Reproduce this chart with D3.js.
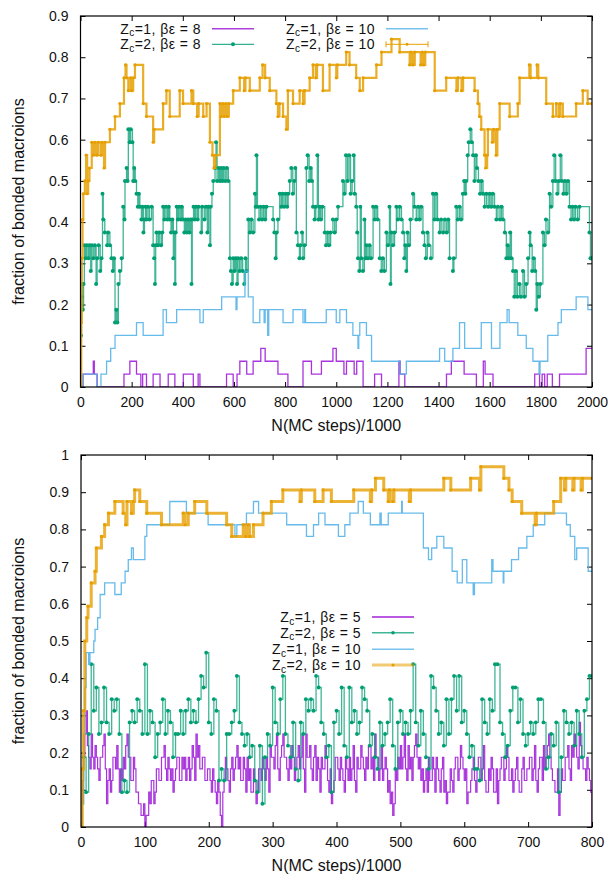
<!DOCTYPE html>
<html><head><meta charset="utf-8">
<script src="https://cdn.jsdelivr.net/npm/d3@7"></script>
<style>
body{margin:0;background:#fff}
svg{display:block;font-family:"Liberation Sans",Arial,sans-serif}
</style></head><body>
<svg id="chart" width="613" height="874"></svg>
<script>
// fractions are bonded counts out of 32 macroions
const N_MACRO=32;

// top panel, change points [N(MC steps)/1000, bonded count]
const topZ1b8=[[0,0],[10,1],[50,2],[54,1],[65,0],[170,1],[193,2],[219,1],[236,0],[243,1],[258,0],[284,1],[311,0],[343,1],[369,0],[402,1],[441,0],[460,1],[467,0],[571,1],[597,0],[612,1],[623,2],[650,1],[675,2],[705,3],[722,2],[772,1],[811,0],[870,2],[903,1],[942,2],[987,3],[1000,2],[1030,1],[1040,2],[1070,1],[1080,2],[1105,0],[1150,1],[1177,0],[1245,2],[1250,1],[1268,0],[1431,1],[1450,2],[1500,1],[1548,0],[1575,2],[1582,1],[1613,0],[1776,1],[1795,0],[1805,1],[1815,0],[1825,1],[1845,0],[1873,1],[1977,3],[2000,3]];
const topZ2b8=[[0,0],[2,4],[4,7],[6,8],[9,6],[12,8],[15,11],[20,10],[25,11],[31,10],[35,11],[40,9],[44,11],[50,10],[56,11],[61,8],[65,10],[71,11],[77,9],[82,10],[86,15],[89,13],[95,12],[104,11],[108,12],[115,11],[121,10],[126,9],[131,10],[135,5],[140,6],[144,5],[148,8],[154,9],[161,10],[167,14],[172,13],[174,16],[180,17],[184,16],[187,20],[192,19],[196,20],[203,19],[206,16],[210,17],[214,16],[219,15],[224,14],[228,15],[232,14],[238,13],[242,14],[246,12],[250,13],[254,14],[258,13],[264,14],[270,13],[278,14],[284,11],[288,10],[291,8],[294,11],[297,12],[303,11],[308,12],[315,11],[320,12],[323,14],[328,13],[334,14],[340,13],[345,14],[349,13],[354,12],[359,13],[363,10],[367,12],[369,8],[372,12],[376,14],[381,13],[386,14],[392,13],[396,14],[401,13],[406,12],[411,13],[416,12],[421,13],[426,12],[431,13],[434,8],[437,13],[442,14],[447,13],[452,14],[458,13],[462,14],[472,12],[476,14],[484,13],[490,14],[496,12],[500,14],[506,11],[509,14],[514,15],[519,16],[526,17],[530,19],[534,16],[540,17],[545,16],[550,17],[555,16],[560,17],[566,16],[572,17],[578,16],[584,10],[588,9],[592,8],[597,10],[602,9],[607,10],[612,8],[616,10],[622,9],[628,10],[634,9],[640,8],[645,10],[650,9],[656,13],[662,12],[668,13],[675,12],[682,15],[685,14],[688,18],[692,14],[698,13],[704,14],[710,13],[716,14],[722,13],[727,14],[753,13],[758,12],[763,10],[767,12],[772,13],[779,15],[785,14],[790,15],[796,14],[802,15],[808,14],[812,15],[818,16],[824,17],[830,15],[836,16],[840,17],[844,12],[850,11],[856,10],[860,11],[866,12],[870,10],[876,11],[883,17],[888,18],[894,16],[900,17],[905,16],[909,14],[915,13],[920,14],[926,18],[930,13],[935,14],[940,13],[946,14],[955,12],[960,11],[966,12],[972,11],[978,12],[987,13],[994,12],[1000,13],[1007,14],[1026,16],[1032,15],[1038,18],[1044,16],[1050,18],[1056,15],[1062,16],[1068,18],[1072,15],[1078,14],[1082,12],[1085,10],[1090,9],[1094,14],[1098,10],[1104,9],[1110,13],[1114,10],[1118,11],[1124,10],[1130,11],[1136,10],[1144,14],[1150,13],[1156,14],[1162,13],[1170,10],[1176,9],[1182,10],[1188,9],[1196,12],[1202,11],[1208,14],[1212,8],[1215,12],[1222,11],[1228,12],[1235,14],[1241,13],[1248,14],[1255,13],[1261,12],[1266,10],[1270,11],[1274,9],[1278,12],[1284,11],[1290,13],[1300,15],[1306,14],[1313,13],[1320,14],[1326,13],[1332,14],[1339,12],[1345,11],[1350,10],[1356,12],[1362,11],[1370,10],[1378,15],[1384,13],[1390,15],[1396,13],[1404,12],[1410,13],[1418,12],[1425,13],[1432,12],[1438,13],[1443,10],[1456,9],[1460,10],[1469,14],[1475,13],[1482,14],[1488,13],[1495,15],[1500,16],[1505,15],[1508,16],[1514,18],[1518,19],[1524,20],[1530,19],[1535,18],[1540,16],[1546,18],[1550,17],[1556,16],[1562,15],[1568,16],[1574,15],[1580,14],[1587,15],[1594,14],[1600,15],[1606,14],[1612,15],[1619,14],[1626,13],[1632,14],[1640,13],[1646,14],[1652,13],[1659,12],[1665,10],[1670,11],[1675,10],[1680,12],[1685,10],[1691,9],[1696,7],[1702,9],[1708,7],[1716,8],[1722,7],[1730,9],[1736,7],[1743,8],[1750,10],[1756,12],[1760,11],[1766,9],[1772,10],[1778,9],[1782,6],[1786,8],[1792,7],[1798,8],[1808,12],[1814,11],[1820,13],[1828,12],[1834,15],[1840,14],[1847,16],[1852,18],[1858,16],[1864,15],[1870,16],[1876,18],[1882,16],[1888,15],[1894,16],[1900,15],[1906,16],[1912,14],[1918,13],[1924,14],[1930,13],[1936,14],[1944,13],[1951,14],[1990,12],[1994,10],[2000,10]];
const topZ1b10=[[0,0],[11,1],[63,0],[80,1],[102,2],[118,3],[135,4],[219,5],[245,4],[323,6],[336,5],[376,6],[467,5],[480,6],[552,7],[608,6],[612,7],[643,9],[656,7],[675,5],[701,6],[718,5],[722,6],[732,4],[736,6],[792,5],[831,6],[870,5],[877,6],[880,5],[961,6],[1000,5],[1014,6],[1040,5],[1065,4],[1085,3],[1088,4],[1092,5],[1118,4],[1138,2],[1249,1],[1274,2],[1404,3],[1424,2],[1456,3],[1482,5],[1502,3],[1567,5],[1607,3],[1640,5],[1668,6],[1676,5],[1710,4],[1743,3],[1769,2],[1793,1],[1797,2],[1827,4],[1867,5],[1880,6],[1938,7],[1984,6],[2000,6]];
const topZ2b10=[[0,0],[3,5],[5,10],[8,13],[11,15],[17,16],[22,18],[26,15],[30,16],[35,17],[44,19],[50,18],[56,19],[64,18],[70,19],[80,18],[84,19],[92,17],[96,19],[115,20],[135,21],[154,22],[170,24],[176,25],[180,24],[187,23],[196,24],[200,23],[206,24],[213,25],[245,22],[258,21],[284,19],[288,20],[323,22],[336,23],[349,21],[388,23],[401,22],[434,23],[441,22],[456,21],[462,22],[480,21],[493,22],[506,19],[516,18],[522,17],[528,18],[545,22],[550,21],[556,22],[562,21],[568,22],[574,21],[580,22],[597,23],[623,24],[640,23],[645,24],[662,23],[701,24],[712,25],[722,24],[740,23],[766,22],[772,21],[778,22],[792,21],[805,20],[811,23],[831,22],[857,23],[870,22],[876,23],[896,24],[909,25],[920,24],[925,25],[948,23],[974,25],[1000,24],[1004,25],[1039,26],[1052,25],[1078,24],[1092,23],[1105,24],[1157,25],[1177,26],[1216,27],[1248,26],[1287,25],[1292,26],[1300,25],[1307,26],[1330,25],[1336,26],[1342,25],[1348,26],[1385,23],[1430,24],[1470,23],[1476,24],[1490,23],[1496,24],[1541,23],[1554,22],[1560,21],[1567,20],[1580,18],[1584,17],[1590,18],[1593,20],[1610,19],[1616,20],[1625,18],[1630,20],[1639,22],[1678,21],[1710,22],[1717,24],[1755,25],[1760,24],[1785,25],[1790,24],[1821,22],[1847,21],[1860,22],[1870,21],[1876,22],[1886,21],[1938,22],[1964,23],[1983,22],[2000,22]];

// bottom panel: beta eps = 5 runs, counts sampled every dx
const botDx1=2, botDx2=4;
const botZ1b5=[0,4,6,8,10,7,6,5,8,6,5,7,6,5,4,6,6,7,8,5,
2,4,5,3,4,6,6,5,7,5,3,5,4,6,5,7,8,6,6,4,
4,6,5,3,3,2,2,1,1,2,0,1,1,3,2,4,4,2,3,5,
5,4,4,6,6,7,5,4,6,5,4,5,3,4,5,6,6,4,4,6,
5,6,4,5,6,4,5,7,6,4,8,6,7,5,5,6,6,4,4,5,
5,4,3,5,4,3,2,4,3,1,0,3,4,6,5,4,3,5,6,4,
5,6,7,5,6,4,4,6,5,3,6,4,5,3,3,5,4,2,3,5,
5,4,6,5,4,6,5,3,7,6,6,5,7,8,5,4,6,7,8,6,
6,5,4,6,5,7,6,4,5,6,7,5,6,8,5,3,8,6,6,7,
5,4,6,7,4,6,5,3,6,5,5,7,6,4,3,5,2,3,4,6,
6,5,4,6,5,4,3,6,5,4,6,4,5,7,4,3,6,5,5,7,
6,5,4,6,5,7,7,5,6,4,8,6,6,4,5,7,4,5,6,5,
3,4,2,3,1,2,5,4,6,5,7,5,6,8,5,4,7,5,6,4,
6,7,8,6,5,6,4,5,3,4,5,3,6,4,4,6,5,3,6,5,
4,3,5,6,3,4,2,3,3,5,4,3,5,6,6,4,5,7,6,5,
4,5,2,3,3,4,5,6,4,3,5,6,6,4,5,7,4,3,3,5,
4,6,5,3,3,5,2,4,5,6,6,4,5,7,6,4,4,5,3,4,
5,6,4,3,3,5,6,4,4,5,5,6,6,4,5,7,4,3,5,6,
6,4,7,5,6,7,8,6,5,4,4,3,3,5,1,3,5,4,4,6,
6,7,5,4,7,6,8,7,6,5,9,7,6,5,5,4,6,5,4,3,
0];
const botZ2b5=[2,6,3,8,14,10,12,8,9,12,9,8,11,10,11,8,3,4,3,9,
10,9,11,10,8,14,8,10,9,6,8,9,11,8,10,9,6,8,8,10,
8,10,11,9,10,9,11,13,12,15,9,8,11,10,4,5,4,8,8,9,
10,13,9,8,7,8,6,7,4,3,7,2,6,8,7,12,9,8,11,13,
8,7,6,9,5,4,9,8,11,10,11,10,13,12,9,8,6,7,3,9,
10,8,12,7,6,12,9,10,8,9,12,11,10,7,8,6,5,9,7,8,
9,11,7,5,9,10,8,9,8,10,14,9,7,10,8,6,5,13,12,10,
8,9,7,11,8,11,13,10,13,9,10,8,6,7,5,5,4,11,9,8,
11,10,14,14,9,8,6,7,10,12,12,9,11,8,7,8,9,8,9,11,
11,9,5,6,8,7,9,3,6,10,9,8,9,7,10,8,6,10,11,13,
13];
// bottom panel beta eps = 10 runs, change points
const botZ1b10=[[0,0],[2,2],[4,8],[6,12],[8,15],[12,14],[14,15],[20,16],[22,17],[26,18],[30,20],[37,21],[53,20],[63,21],[69,22],[74,23],[79,24],[82,23],[100,25],[103,26],[139,28],[165,27],[199,26],[241,25],[244,26],[259,27],[270,28],[278,27],[322,26],[353,25],[364,26],[372,27],[382,26],[403,25],[413,26],[421,27],[434,28],[442,27],[453,26],[468,27],[470,26],[481,27],[502,28],[503,27],[536,24],[544,23],[549,24],[557,25],[568,24],[581,22],[589,21],[597,23],[604,21],[614,20],[616,21],[643,23],[645,22],[661,21],[662,22],[674,23],[685,24],[698,25],[708,26],[726,27],[760,26],[766,25],[773,23],[776,24],[794,22],[800,22]];
const botZ2b10=[[0,0],[2,5],[4,10],[6,16],[9,18],[11,19],[16,21],[22,22],[24,24],[32,25],[37,26],[43,27],[53,28],[66,27],[70,26],[72,28],[79,27],[82,28],[84,29],[92,28],[103,27],[126,26],[160,27],[163,26],[168,27],[178,28],[197,27],[228,26],[236,25],[254,26],[258,25],[262,26],[264,25],[270,26],[285,27],[298,28],[316,29],[343,28],[345,29],[366,28],[379,29],[392,28],[427,29],[453,28],[455,29],[461,30],[474,29],[481,28],[483,29],[488,28],[490,29],[514,28],[516,29],[568,30],[579,29],[610,30],[624,29],[626,31],[662,30],[670,29],[675,28],[690,27],[711,26],[713,27],[740,28],[751,30],[757,29],[759,30],[770,29],[772,30],[783,29],[785,30],[800,30]];

const topXTicks=[0,200,400,600,800,1000,1200,1400,1600,1800,2000];
const topYTicks=[0,0.1,0.2,0.3,0.4,0.5,0.6,0.7,0.8,0.9];
const botXTicks=[0,100,200,300,400,500,600,700,800];
const botYTicks=[0,0.1,0.2,0.3,0.4,0.5,0.6,0.7,0.8,0.9,1];

const C={purple:'#9400d3',green:'#009e73',blue:'#56b4e9',orange:'#e69f00'};
const svg=d3.select('#chart');
const toPairs=(arr,dx)=>arr.map((v,i)=>[i*dx,v]);

function panel(cfg){
  const x=d3.scaleLinear().domain(cfg.xDomain).range([cfg.left,cfg.right]);
  const y=d3.scaleLinear().domain(cfg.yDomain).range([cfg.bottom,cfg.top]);
  const g=svg.append('g');
  const clipId='clip'+cfg.id;
  g.append('clipPath').attr('id',clipId).append('rect').attr('x',cfg.left).attr('y',cfg.top).attr('width',cfg.right-cfg.left).attr('height',cfg.bottom-cfg.top);

  const fmt=d=>d3.format('~g')(d);
  const axB=g.append('g').attr('transform',`translate(0,${cfg.bottom})`).call(d3.axisBottom(x).tickValues(cfg.xTicks).tickFormat(fmt).tickSizeInner(-5).tickSizeOuter(0).tickPadding(10));
  const axT=g.append('g').attr('transform',`translate(0,${cfg.top})`).call(d3.axisTop(x).tickValues(cfg.xTicks).tickFormat('').tickSizeInner(-5).tickSizeOuter(0));
  const axL=g.append('g').attr('transform',`translate(${cfg.left},0)`).call(d3.axisLeft(y).tickValues(cfg.yTicks).tickFormat(fmt).tickSizeInner(-5).tickSizeOuter(0).tickPadding(12));
  const axR=g.append('g').attr('transform',`translate(${cfg.right},0)`).call(d3.axisRight(y).tickValues(cfg.yTicks).tickFormat('').tickSizeInner(-5).tickSizeOuter(0));
  [axB,axT,axL,axR].forEach(a=>{a.select('.domain').remove();a.selectAll('line').attr('stroke','#000');a.selectAll('text').attr('font-size',14).attr('fill','#111').attr('font-family','Liberation Sans, Arial, sans-serif');});

  const plot=g.append('g').attr('clip-path',`url(#${clipId})`);
  cfg.series.forEach(s=>{
    const line=d3.line().x(d=>x(d[0])).y(d=>y(d[1]/N_MACRO)).curve(d3.curveStepAfter);
    plot.append('path').datum(s.data).attr('d',line).attr('fill','none').attr('stroke',s.color).attr('stroke-width',s.lw).attr('stroke-opacity',s.op).attr('stroke-linejoin','miter');
    if(s.r){
      plot.append('g').selectAll('circle').data(s.data).join('circle').attr('cx',d=>x(d[0])).attr('cy',d=>y(d[1]/N_MACRO)).attr('r',s.r).attr('fill',s.color);
    }
  });

  g.append('rect').attr('x',cfg.left).attr('y',cfg.top).attr('width',cfg.right-cfg.left).attr('height',cfg.bottom-cfg.top).attr('fill','none').attr('stroke','#000').attr('stroke-width',1.2);

  g.append('text').attr('x',(cfg.left+cfg.right)/2).attr('y',cfg.bottom+44).attr('text-anchor','middle').attr('font-size',16).attr('fill','#111').text('N(MC steps)/1000');
  g.append('text').attr('transform',`translate(24,${(cfg.top+cfg.bottom)/2}) rotate(-90)`).attr('text-anchor','middle').attr('font-size',16).attr('fill','#111').text('fraction of bonded macroions');

  cfg.legend.forEach(L=>{
    const t=g.append('text').attr('x',L.tx).attr('y',L.y+5).attr('text-anchor','end').attr('font-size',14).attr('letter-spacing',0.45).attr('fill','#111');
    t.append('tspan').text('Z');
    t.append('tspan').attr('dy',2.5).attr('font-size',10).text('c');
    t.append('tspan').attr('dy',-2.5).text(L.text);
    g.append('line').attr('x1',L.sx).attr('x2',L.sx+42).attr('y1',L.y).attr('y2',L.y).attr('stroke',L.color).attr('stroke-width',L.lw).attr('stroke-opacity',L.op);
    if(L.r) g.append('circle').attr('cx',L.sx+21).attr('cy',L.y).attr('r',L.r).attr('fill',L.color);
    if(L.bars) [L.sx,L.sx+42].forEach(bx=>g.append('line').attr('x1',bx).attr('x2',bx).attr('y1',L.y-3).attr('y2',L.y+3).attr('stroke',L.color).attr('stroke-width',1));
  });
}

panel({id:'top',left:80.5,right:592,top:16,bottom:387,xDomain:[0,2000],yDomain:[0,0.9],xTicks:topXTicks,yTicks:topYTicks,
  series:[
    {data:topZ1b8,color:C.purple,lw:1.3,op:0.8},
    {data:topZ2b8,color:C.green,lw:1.3,op:0.75,r:2},
    {data:topZ1b10,color:C.blue,lw:1.3,op:0.9},
    {data:topZ2b10,color:C.orange,lw:2.2,op:0.85,r:1.6}
  ],
  legend:[
    {text:'=1, βε = 8',tx:201,sx:212,y:28.7,color:C.purple,lw:1.5,op:0.75},
    {text:'=2, βε = 8',tx:201,sx:212,y:44.3,color:C.green,lw:1.2,op:0.8,r:2},
    {text:'=1, βε = 10',tx:375,sx:386,y:28.7,color:C.blue,lw:1.5,op:0.8},
    {text:'=2, βε = 10',tx:375,sx:386,y:44.3,color:C.orange,lw:1.2,op:0.8,r:1.5,bars:true}
  ]});

panel({id:'bot',left:81,right:592,top:455,bottom:827,xDomain:[0,800],yDomain:[0,1],xTicks:botXTicks,yTicks:botYTicks,
  series:[
    {data:toPairs(botZ1b5,botDx1),color:C.purple,lw:1.2,op:0.8},
    {data:toPairs(botZ2b5,botDx2),color:C.green,lw:1.3,op:0.75,r:1.9},
    {data:botZ1b10,color:C.blue,lw:1.3,op:0.9},
    {data:botZ2b10,color:C.orange,lw:3,op:0.8,r:1.6}
  ],
  legend:[
    {text:'=1, βε = 5',tx:361,sx:372,y:617,color:C.purple,lw:2,op:0.65},
    {text:'=2, βε = 5',tx:361,sx:372,y:632.8,color:C.green,lw:1.5,op:0.75,r:1.8},
    {text:'=1, βε = 10',tx:361,sx:372,y:649.2,color:C.blue,lw:1.5,op:0.8},
    {text:'=2, βε = 10',tx:361,sx:372,y:665,color:C.orange,lw:3,op:0.55,r:1.5}
  ]});
</script>
</body></html>
